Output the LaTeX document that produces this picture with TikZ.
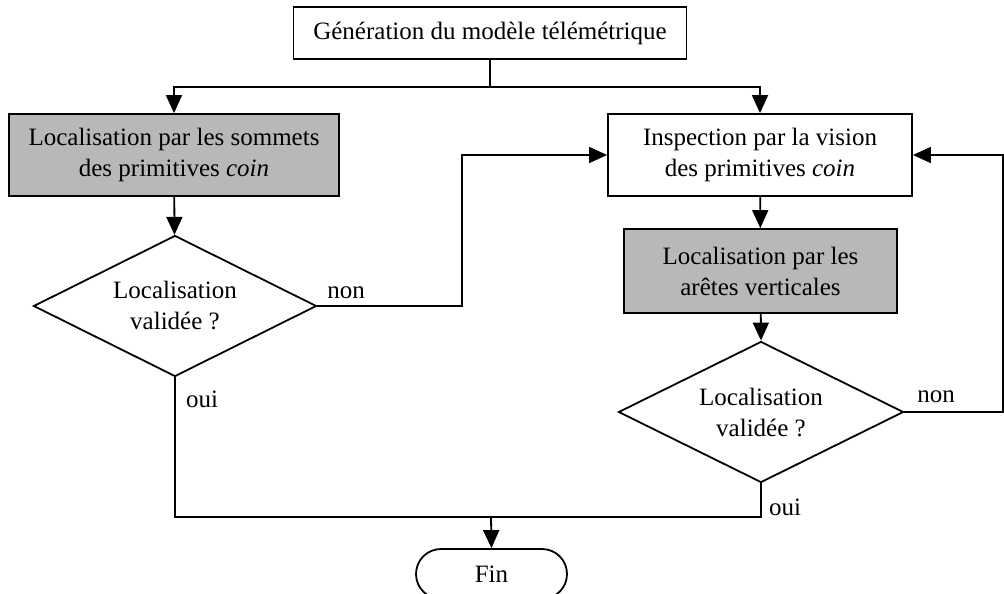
\documentclass[tikz,border=0pt]{standalone}
\usepackage{fontspec}
\setmainfont{Liberation Serif}
\usetikzlibrary{shapes.geometric,arrows.meta}
\definecolor{shade}{HTML}{B8B8B8}
\begin{document}
\begin{tikzpicture}[x=1pt,y=-1pt,
  every node/.style={font=\fontsize{25}{31}\selectfont, align=center, inner sep=0pt},
  line/.style={line width=1.8pt},
  arr/.style={line width=1.8pt, -{Triangle[length=18pt,width=16pt]}},
  plainbox/.style={draw, line width=1.8pt, rectangle},
  greybox/.style={plainbox, fill=shade},
  decision/.style={draw, line width=1.8pt, diamond, aspect=2},
  terminal/.style={draw, line width=1.8pt, rectangle, rounded corners=25pt},
  lbl/.style={font=\fontsize{25}{31}\selectfont}
]
\useasboundingbox[fill=white] (0,0) rectangle (1004,594);

\node[plainbox, minimum width=393pt, minimum height=52pt] (gen) at (490,33) {Génération du modèle télémétrique};
\node[greybox, minimum width=330pt, minimum height=82pt] (loc1) at (174,155) {Localisation par les sommets\\des primitives \textit{coin}};
\node[decision, minimum width=283pt, minimum height=141pt] (d1) at (175,306) {Localisation\\validée ?};
\node[plainbox, minimum width=304pt, minimum height=82pt] (insp) at (760,155) {Inspection par la vision\\des primitives \textit{coin}};
\node[greybox, minimum width=273pt, minimum height=84pt] (loc2) at (760.5,271) {Localisation par les\\arêtes verticales};
\node[decision, minimum width=285pt, minimum height=141pt] (d2) at (761,412) {Localisation\\validée ?};
\node[terminal, minimum width=151pt, minimum height=50pt] (fin) at (491.5,574) {Fin};

\coordinate (j1) at (490,87);
\coordinate (c1) at (462,155);
\coordinate (c2) at (1003,155);
\coordinate (j2) at (491,517);

\draw[line] (gen.south) -- (j1);
\draw[arr] (j1) -| (loc1.north);
\draw[arr] (j1) -| (insp.north);
\draw[arr] (loc1) -- (d1);
\draw[arr] (d1.east) -| (c1) -- (insp.west);
\draw[arr] (insp) -- (loc2);
\draw[arr] (loc2) -- (d2.north);
\draw[arr] (d2.east) -| (c2) -- (insp.east);
\draw[line] (d1.south) |- (j2);
\draw[line] (d2.south) |- (j2);
\draw[arr] (j2) -- (fin.north);

\node[lbl] (n1) at (346,293) {non};
\node[lbl] (n2) at (936,397) {non};
\node[lbl] (o1) at (202,399) {oui};
\node[lbl] (o2) at (785,507) {oui};
\end{tikzpicture}
\end{document}
